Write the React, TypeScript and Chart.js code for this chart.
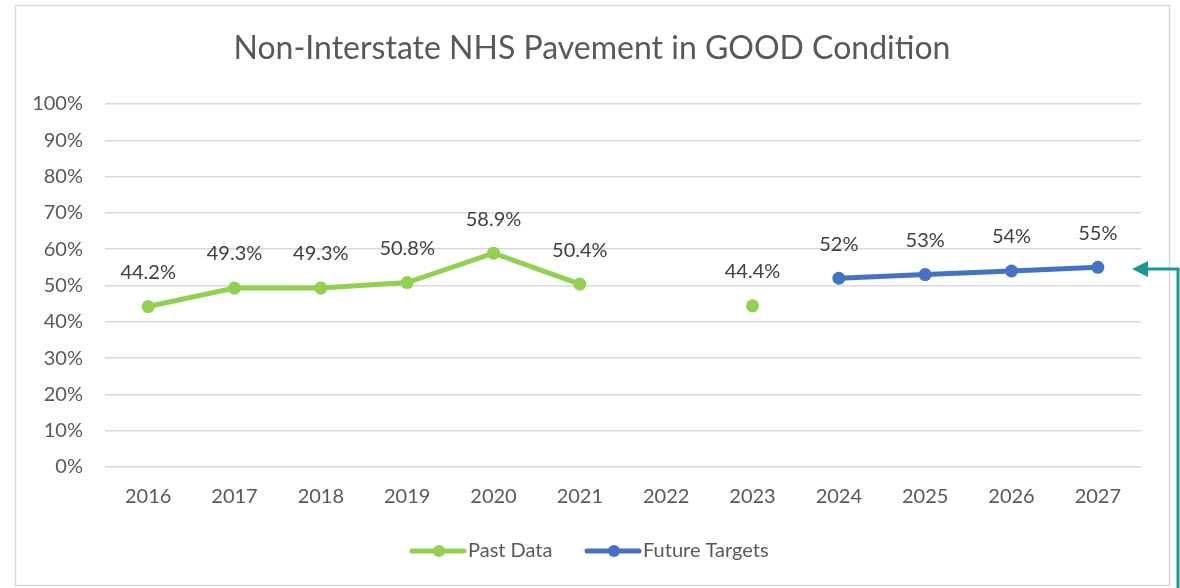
import React, { useEffect, useRef } from "react";
import { Chart, registerables } from "chart.js";

Chart.register(...registerables);

const categories = ["2016", "2017", "2018", "2019", "2020", "2021", "2022", "2023", "2024", "2025", "2026", "2027"];
const pastData: (number | null)[] = [44.2, 49.3, 49.3, 50.8, 58.9, 50.4, null, 44.4, null, null, null, null];
const futureTargets: (number | null)[] = [null, null, null, null, null, null, null, null, 52, 53, 54, 55];
const pastLabels = ["44.2%", "49.3%", "49.3%", "50.8%", "58.9%", "50.4%", "", "44.4%", "", "", "", ""];
const futureLabels = ["", "", "", "", "", "", "", "", "52%", "53%", "54%", "55%"];
const yTicks = [0, 10, 20, 30, 40, 50, 60, 70, 80, 90, 100];
const titleText = "Non-Interstate NHS Pavement in GOOD Condition";
const legendNames = ["Past Data", "Future Targets"];

const GREEN = "#92d050";
const BLUE = "#4472c4";
const TEXT = "#595959";
const FONT = "Lato, 'Open Sans', sans-serif";

const decorPlugin = {
  id: "decor",
  beforeDraw(chart: any) {
    const ctx = chart.ctx;
    ctx.save();
    ctx.fillStyle = "#ffffff";
    ctx.fillRect(0, 0, chart.width, chart.height);
    ctx.strokeStyle = "#d9d9d9";
    ctx.lineWidth = 1.5;
    ctx.strokeRect(15.5, 5.5, 1154, 580);
    ctx.restore();
  },
  afterDraw(chart: any) {
    const ctx = chart.ctx;
    ctx.save();
    // title
    ctx.fillStyle = TEXT;
    ctx.font = `32px ${FONT}`;
    ctx.textAlign = "center";
    ctx.textBaseline = "middle";
    ctx.fillText(titleText, 592, 49);

    // data labels
    ctx.font = `20px ${FONT}`;
    ctx.fillStyle = "#404040";
    const labelSets = [pastLabels, futureLabels];
    labelSets.forEach((labels, di) => {
      const meta = chart.getDatasetMeta(di);
      meta.data.forEach((pt: any, i: number) => {
        if (!labels[i]) return;
        ctx.fillText(labels[i], pt.x, pt.y - 34);
      });
    });

    // legend
    const ly = 551;
    const items = [
      { name: legendNames[0], color: GREEN, x: 412 },
      { name: legendNames[1], color: BLUE, x: 587 },
    ];
    ctx.font = `20px ${FONT}`;
    ctx.textAlign = "left";
    items.forEach((it) => {
      ctx.strokeStyle = it.color;
      ctx.lineWidth = 5;
      ctx.lineCap = "round";
      ctx.beginPath();
      ctx.moveTo(it.x, ly);
      ctx.lineTo(it.x + 52, ly);
      ctx.stroke();
      ctx.fillStyle = it.color;
      ctx.beginPath();
      ctx.arc(it.x + 27, ly, 6, 0, Math.PI * 2);
      ctx.fill();
      ctx.fillStyle = TEXT;
      ctx.fillText(it.name, it.x + 56, ly);
    });

    // teal arrow
    ctx.strokeStyle = "#1a9797";
    ctx.fillStyle = "#1a9797";
    ctx.lineWidth = 3;
    ctx.lineCap = "butt";
    ctx.beginPath();
    ctx.moveTo(1178, 590);
    ctx.lineTo(1178, 269);
    ctx.lineTo(1146, 269);
    ctx.stroke();
    ctx.beginPath();
    ctx.moveTo(1132, 269);
    ctx.lineTo(1148, 261);
    ctx.lineTo(1148, 277);
    ctx.closePath();
    ctx.fill();
    ctx.restore();
  },
};

export default function App() {
  const ref = useRef<HTMLCanvasElement>(null);
  useEffect(() => {
    if (!ref.current) return;
    const chart = new Chart(ref.current, {
      type: "line",
      data: {
        labels: categories,
        datasets: [
          {
            label: legendNames[0],
            data: pastData,
            borderColor: GREEN,
            backgroundColor: GREEN,
            borderWidth: 5,
            pointRadius: 6.5,
            pointHoverRadius: 6.5,
            pointBorderWidth: 0,
            spanGaps: false,
            tension: 0,
          },
          {
            label: legendNames[1],
            data: futureTargets,
            borderColor: BLUE,
            backgroundColor: BLUE,
            borderWidth: 5,
            pointRadius: 6.5,
            pointHoverRadius: 6.5,
            pointBorderWidth: 0,
            spanGaps: false,
            tension: 0,
          },
        ],
      },
      options: {
        animation: false,
        responsive: false,
        maintainAspectRatio: false,
        devicePixelRatio: 1,
        layout: { padding: { left: 16, right: 39, top: 104, bottom: 71 } },
        plugins: {
          legend: { display: false },
          title: { display: false },
          tooltip: { enabled: false },
        },
        scales: {
          x: {
            offset: true,
            grid: { display: false, drawTicks: false },
            border: { display: false },
            ticks: { color: TEXT, font: { family: FONT, size: 20 }, padding: 18, maxRotation: 0 },
            afterFit: (s: any) => {
              s.height = 50;
            },
          },
          y: {
            min: 0,
            max: 100,
            afterBuildTicks: (s: any) => {
              s.ticks = yTicks.map((v) => ({ value: v }));
            },
            grid: { color: "#d9d9d9", lineWidth: 1.5, drawTicks: false },
            border: { display: false },
            ticks: {
              color: TEXT,
              font: { family: FONT, size: 20 },
              padding: 22,
              callback: (v: any) => `${v}%`,
            },
            afterFit: (s: any) => {
              s.width = 89;
            },
          },
        },
      },
      plugins: [decorPlugin],
    });
    return () => chart.destroy();
  }, []);
  return (
    <div style={{ position: "fixed", left: 0, top: 0, width: 1180, height: 588 }}>
      <canvas ref={ref} width={1180} height={588} style={{ width: 1180, height: 588, display: "block" }} />
    </div>
  );
}
